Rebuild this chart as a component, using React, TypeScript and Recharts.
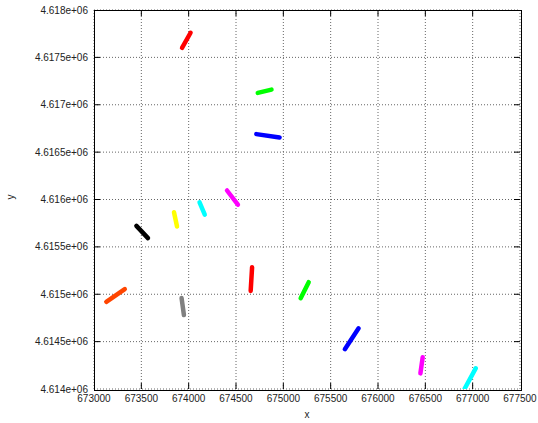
import { ScatterChart, Scatter, XAxis, YAxis, CartesianGrid } from "recharts";

const colors = ["#ff0000", "#00ff00", "#0000ff", "#ff00ff", "#00ffff", "#ffff00", "#000000", "#ff4500", "#808080", "#ff0000", "#00ff00", "#0000ff", "#ff00ff", "#00ffff"];
const xStart = [673930, 674730, 674715, 674405, 674115, 673845, 673448, 673130, 673925, 674670, 675268, 675795, 676472, 677032];
const yStart = [4617600, 4617125, 4616690, 4616095, 4615970, 4615865, 4615722, 4614920, 4614960, 4615285, 4615127, 4614640, 4614335, 4614218];
const xEnd = [674020, 674875, 674960, 674520, 674170, 673877, 673570, 673325, 673950, 674655, 675183, 675650, 676448, 676916];
const yEnd = [4617760, 4617160, 4616655, 4615945, 4615840, 4615715, 4615592, 4615055, 4614780, 4615035, 4614958, 4614420, 4614165, 4614005];

const xTicks = [673000, 673500, 674000, 674500, 675000, 675500, 676000, 676500, 677000, 677500];
const yTicks = [4614000, 4614500, 4615000, 4615500, 4616000, 4616500, 4617000, 4617500, 4618000];

const segments = colors.map((c, i) => ({
  color: c,
  points: [
    { x: xStart[i], y: yStart[i] },
    { x: xEnd[i], y: yEnd[i] },
  ],
}));

const fmtY = (v: number) => `${parseFloat((v / 1e6).toFixed(4))}e+06`;
const font = "'Liberation Sans', Arial, sans-serif";

// plot box (px) – used for the frame and the mirrored tick marks
const PLOT = { left: 94, top: 10, width: 426, height: 379 };

// gnuplot-ish ticks: short marks pointing into the plot on all four sides
const BottomTick = (p: any) => {
  const v = p.payload.value;
  const edge = v === xTicks[0] || v === xTicks[xTicks.length - 1];
  const axisY = p.y - 6;
  return (
    <g>
      {!edge && <line x1={p.x} x2={p.x} y1={axisY} y2={axisY - 6} stroke="#000" />}
      {!edge && <line x1={p.x} x2={p.x} y1={axisY - PLOT.height} y2={axisY - PLOT.height + 6} stroke="#000" />}
      <text x={p.x} y={p.y} dy="0.71em" textAnchor="middle" fontSize={10} fontFamily={font} fill="#222">
        {v}
      </text>
    </g>
  );
};
const LeftTick = (p: any) => {
  const v = p.payload.value;
  const edge = v === yTicks[0] || v === yTicks[yTicks.length - 1];
  const axisX = p.x + 6;
  return (
    <g>
      {!edge && <line x1={axisX} x2={axisX + 6} y1={p.y} y2={p.y} stroke="#000" />}
      {!edge && <line x1={axisX + PLOT.width} x2={axisX + PLOT.width - 6} y1={p.y} y2={p.y} stroke="#000" />}
      <text x={p.x} y={p.y} dy="0.355em" textAnchor="end" fontSize={10} fontFamily={font} fill="#222">
        {fmtY(v)}
      </text>
    </g>
  );
};

export default function App() {
  return (
    <div style={{ position: "absolute", left: 0, top: 0, width: 538, height: 423, background: "#fff" }}>
      <ScatterChart width={538} height={423} margin={{ top: PLOT.top, right: 18, bottom: 0, left: 0 }}>
        <CartesianGrid stroke="#666" strokeDasharray="1 2" />
        <XAxis
          type="number"
          dataKey="x"
          domain={[673000, 677500]}
          ticks={xTicks}
          interval={0}
          allowDataOverflow
          height={34}
          tickSize={0}
          tickMargin={6}
          tick={BottomTick}
          axisLine={false}
          label={{ value: "x", position: "insideBottom", offset: 5, fontSize: 10, fontFamily: font, fill: "#222" }}
        />
        <YAxis
          type="number"
          dataKey="y"
          domain={[4614000, 4618000]}
          ticks={yTicks}
          interval={0}
          allowDataOverflow
          width={94}
          tickSize={0}
          tickMargin={6}
          tick={LeftTick}
          axisLine={false}
          label={{ value: "y", angle: -90, position: "insideLeft", offset: 10, fontSize: 10, fontFamily: font, fill: "#222" }}
        />
        {segments.map((s, i) => (
          <Scatter
            key={i}
            data={s.points}
            fill={s.color}
            line={{ stroke: s.color, strokeWidth: 4.5, strokeLinecap: "round" }}
            shape={() => <g />}
            isAnimationActive={false}
          />
        ))}
      </ScatterChart>
      <div
        style={{
          position: "absolute",
          left: PLOT.left - 0.5,
          top: PLOT.top - 0.5,
          width: PLOT.width,
          height: PLOT.height,
          border: "1px solid #000",
          pointerEvents: "none",
        }}
      />
    </div>
  );
}
